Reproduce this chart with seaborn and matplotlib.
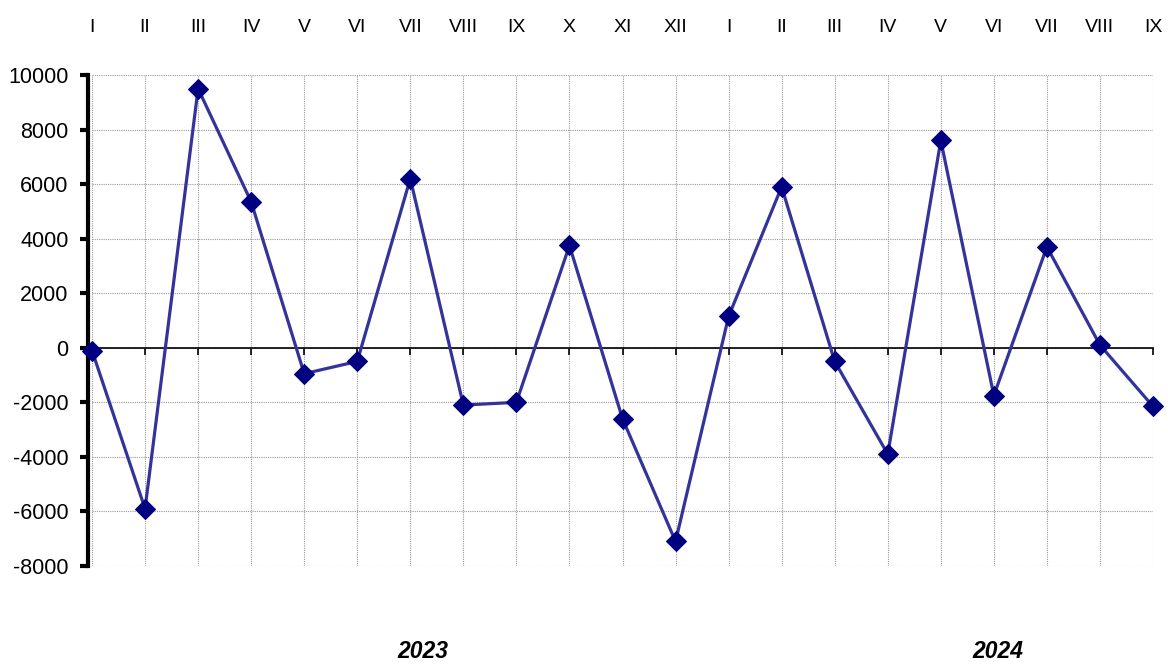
import numpy as np
import pandas as pd
import matplotlib
matplotlib.use("Agg")
import matplotlib.pyplot as plt
import seaborn as sns

# monthly values, Jan 2023 .. Sep 2024
months = ["I", "II", "III", "IV", "V", "VI", "VII", "VIII", "IX", "X", "XI", "XII",
          "I", "II", "III", "IV", "V", "VI", "VII", "VIII", "IX"]
values = [-100, -5900, 9500, 5350, -950, -500, 6200, -2100, -2000, 3750, -2600, -7100,
          1150, 5900, -500, -3900, 7600, -1750, 3700, 100, -2150]
years = ["2023", "2024"]

df = pd.DataFrame({"idx": np.arange(len(values)), "value": values})

sns.set_theme(style="white")
plt.rcParams["font.family"] = ["Liberation Sans", "DejaVu Sans"]
plt.rcParams["axes.unicode_minus"] = False
plt.rcParams["text.color"] = "black"
plt.rcParams["xtick.color"] = "black"
plt.rcParams["ytick.color"] = "black"

fig = plt.figure(figsize=(11.68, 6.64), dpi=100)
ax = fig.add_axes([92 / 1168, 1 - 566 / 664, (1153 - 92) / 1168, (566 - 75) / 664])

sns.lineplot(data=df, x="idx", y="value", ax=ax, color="#333399", linewidth=2.3,
             marker="D", markersize=10, markerfacecolor="#000080",
             markeredgecolor="#000080", zorder=3, clip_on=False)

ax.set_xlim(0, len(values) - 1)
ax.set_ylim(-8000, 10000)
ax.set_yticks(np.arange(-8000, 10001, 2000))
ax.set_xticks(np.arange(len(values)))
ax.set_xlabel("")
ax.set_ylabel("")

# grid
ax.grid(True, color="#999999", linestyle=(0, (1, 1)), linewidth=0.8)
ax.set_axisbelow(True)

# spines
for s in ["top", "right"]:
    ax.spines[s].set_visible(False)
ax.spines["left"].set_linewidth(3)
ax.spines["left"].set_color("black")
ax.spines["left"].set_position(("outward", 3))
ax.spines["bottom"].set_position(("data", 0))
ax.spines["bottom"].set_color("black")
ax.spines["bottom"].set_linewidth(1.2)

ax.tick_params(axis="y", which="major", left=True, direction="out", length=6, width=3,
               labelcolor="black", labelsize=15.5, pad=8)
ax.tick_params(axis="x", which="major", bottom=True, direction="out", length=5,
               width=1.2, labelbottom=False)

# month labels along the top
sec = ax.secondary_xaxis("top")
sec.set_xticks(np.arange(len(values)))
sec.set_xticklabels(months)
sec.tick_params(top=True, length=0, labelsize=14, labelcolor="black", pad=28)
sec.spines["top"].set_visible(False)

# year labels
fig.text(423 / 1168, 1 - 651 / 664, years[0], ha="center", va="center",
         fontsize=16.5, fontweight="bold", fontstyle="italic")
fig.text(998 / 1168, 1 - 651 / 664, years[1], ha="center", va="center",
         fontsize=16.5, fontweight="bold", fontstyle="italic")

fig.savefig("out.png", dpi=100)
